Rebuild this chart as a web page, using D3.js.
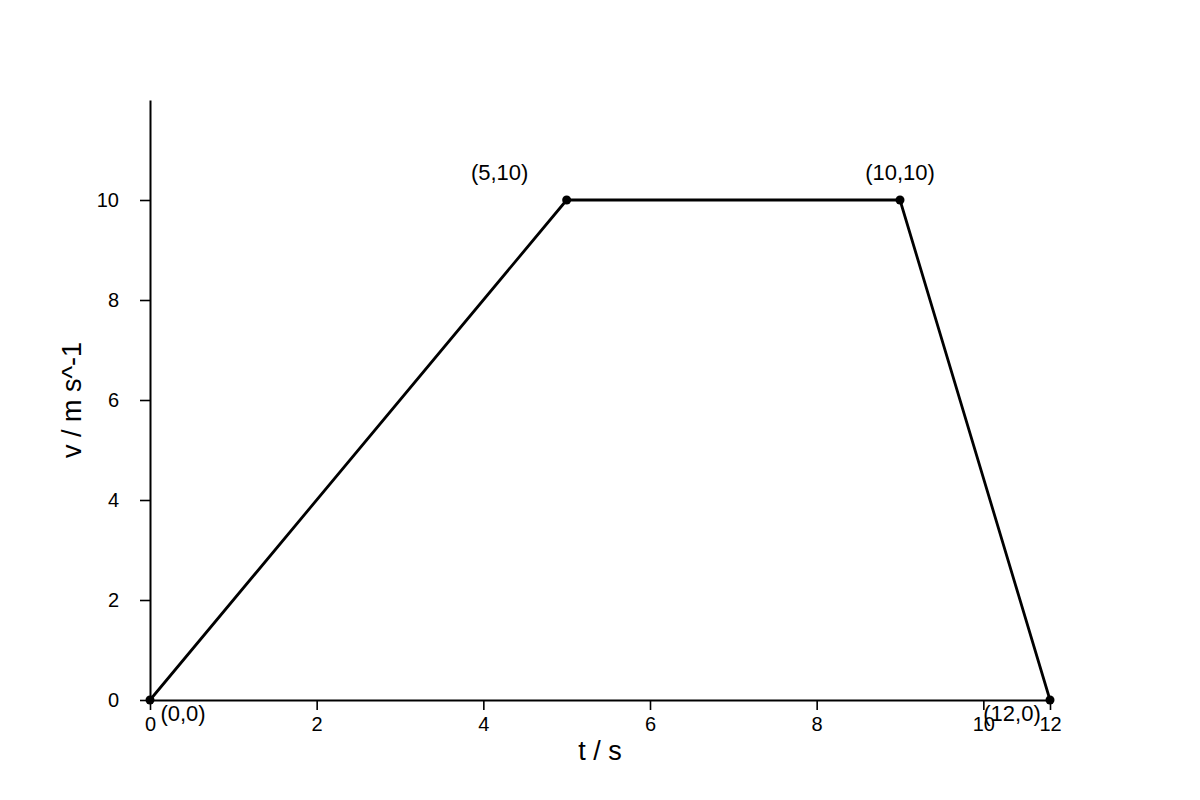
<!DOCTYPE html>
<html>
<head>
<meta charset="utf-8">
<script src="https://cdn.jsdelivr.net/npm/d3@7"></script>
<style>
  html, body { margin: 0; padding: 0; background: #fff; }
  text { font-family: "Liberation Sans", Arial, sans-serif; fill: #000; }
</style>
</head>
<body>
<svg id="chart" width="1200" height="800"></svg>
<script>
// Data (t in axis units as drawn, v in m/s)
const tValues = [0, 5, 9, 10.8];
const vValues = [0, 10, 10, 0];
const pointLabels = ["(0,0)", "(5,10)", "(10,10)", "(12,0)"];
const xTickValues = [0, 2, 4, 6, 8, 10, 10.8];
const xTickLabels = ["0", "2", "4", "6", "8", "10", "12"];
const yTickValues = [0, 2, 4, 6, 8, 10];
const yTickLabels = ["0", "2", "4", "6", "8", "10"];

// Label offsets (style)
const labelOffsets = [[33, 21], [-67, -20], [0, -20], [-38, 21]];

const svg = d3.select("#chart");
const x = d3.scaleLinear().domain([0, 10.8]).range([150, 1050]);
const y = d3.scaleLinear().domain([0, 12]).range([700, 100]);

const xAxis = d3.axisBottom(x).tickValues(xTickValues)
  .tickFormat((d, i) => xTickLabels[i]).tickSizeOuter(0).tickSizeInner(10).tickPadding(7);
const yAxis = d3.axisLeft(y).tickValues(yTickValues)
  .tickFormat((d, i) => yTickLabels[i]).tickSizeOuter(0).tickSizeInner(10).tickPadding(21);

const gx = svg.append("g").attr("transform", `translate(0,${y(0)})`).call(xAxis);
const gy = svg.append("g").attr("transform", `translate(${x(0)},0)`).call(yAxis);
[gx, gy].forEach(g => {
  g.select(".domain").attr("stroke", "#000").attr("stroke-width", 2);
  g.selectAll(".tick line").attr("stroke", "#000").attr("stroke-width", 1.6);
  g.selectAll(".tick text").style("font-size", "20px").style("font-family", "Liberation Sans, Arial, sans-serif").attr("fill", "#000");
});

const data = tValues.map((t, i) => ({ t, v: vValues[i], label: pointLabels[i], off: labelOffsets[i] }));

svg.append("path").datum(data)
  .attr("fill", "none").attr("stroke", "#000").attr("stroke-width", 2.8)
  .attr("d", d3.line().x(d => x(d.t)).y(d => y(d.v)));

svg.selectAll("circle.pt").data(data).enter().append("circle")
  .attr("class", "pt").attr("cx", d => x(d.t)).attr("cy", d => y(d.v)).attr("r", 4.5).attr("fill", "#000");

svg.selectAll("text.pl").data(data).enter().append("text")
  .attr("class", "pl")
  .attr("x", d => x(d.t) + d.off[0]).attr("y", d => y(d.v) + d.off[1])
  .attr("text-anchor", "middle").style("font-size", "22px")
  .text(d => d.label);

svg.append("text").attr("x", 600).attr("y", 760).attr("text-anchor", "middle")
  .style("font-size", "27px").text("t / s");
svg.append("text").attr("transform", "translate(81,400) rotate(-90)").attr("text-anchor", "middle")
  .style("font-size", "27px").text("v / m s^-1");
</script>
</body>
</html>
